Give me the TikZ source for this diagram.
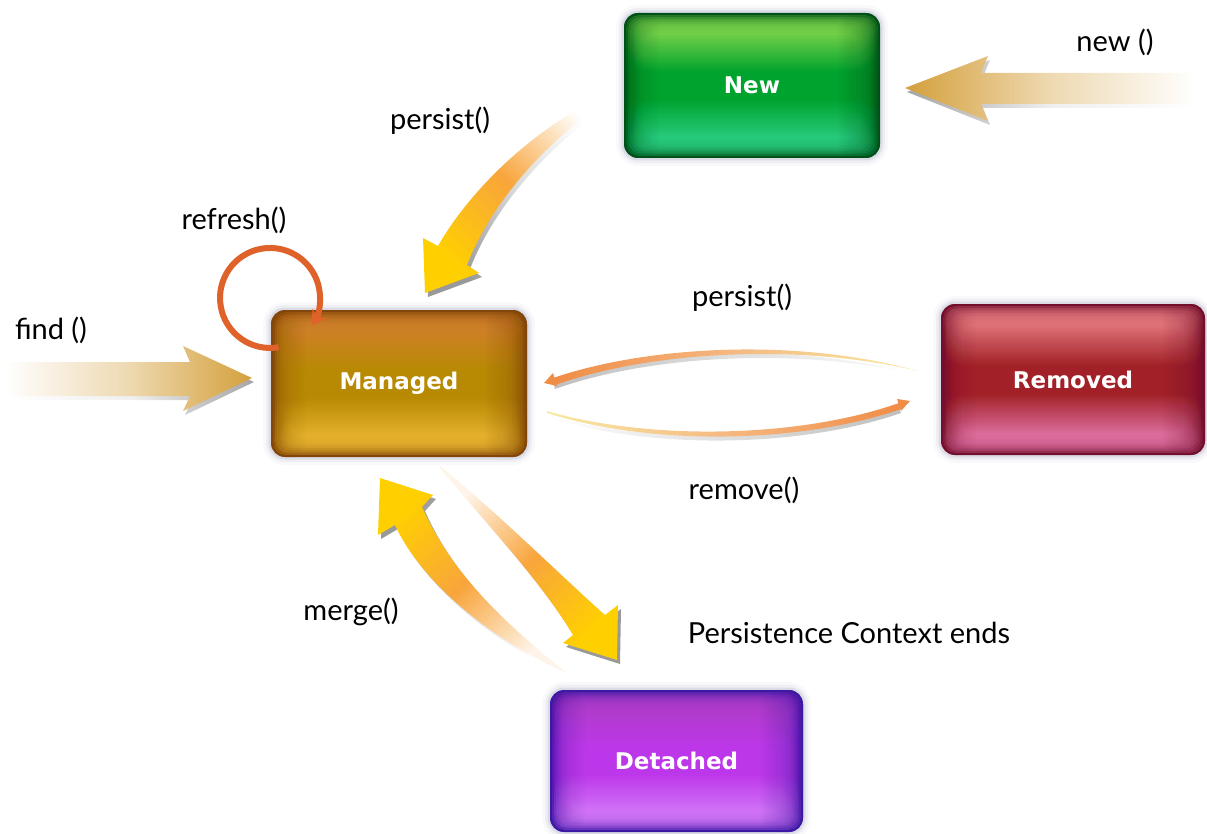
\documentclass[tikz,border=0pt]{standalone}
\usepackage{fontspec}
\setmainfont{Lato}
\newfontfamily\boxfont{DejaVu Sans}
\usetikzlibrary{arrows.meta}
\definecolor{glow}{RGB}{140,140,175}
\definecolor{gold}{RGB}{212,160,60}
\definecolor{ayel}{RGB}{255,208,0}
\definecolor{aora}{RGB}{248,165,60}
\definecolor{apeach}{RGB}{252,228,200}
\definecolor{thinor}{RGB}{240,140,70}
\definecolor{thinpe}{RGB}{245,185,130}
\definecolor{thinye}{RGB}{248,235,165}
\definecolor{refr}{RGB}{222,98,42}
% box colours
\definecolor{newtop}{RGB}{140,222,80}
\definecolor{newmid}{RGB}{0,168,48}
\definecolor{newbot}{RGB}{45,212,135}
\definecolor{newedge}{RGB}{0,80,25}
\definecolor{mantop}{RGB}{214,130,48}
\definecolor{manmid}{RGB}{188,142,4}
\definecolor{manbot}{RGB}{238,186,50}
\definecolor{manedge}{RGB}{130,70,10}
\definecolor{remtop}{RGB}{240,134,140}
\definecolor{remmid}{RGB}{165,36,40}
\definecolor{rembot}{RGB}{230,120,172}
\definecolor{remedge}{RGB}{115,15,45}
\definecolor{dettop}{RGB}{180,62,200}
\definecolor{detmid}{RGB}{196,58,238}
\definecolor{detbot}{RGB}{218,125,252}
\definecolor{detedge}{RGB}{60,25,165}
\pgfdeclareverticalshading{newsh}{100bp}{color(0bp)=(newmid); color(14bp)=(newbot); color(26bp)=(newbot); color(44bp)=(newmid); color(56bp)=(newmid); color(76bp)=(newtop); color(100bp)=(newtop)}
\pgfdeclareverticalshading{mansh}{100bp}{color(0bp)=(manmid); color(14bp)=(manbot); color(26bp)=(manbot); color(44bp)=(manmid); color(56bp)=(manmid); color(76bp)=(mantop); color(100bp)=(mantop)}
\pgfdeclareverticalshading{remsh}{100bp}{color(0bp)=(remmid); color(14bp)=(rembot); color(26bp)=(rembot); color(44bp)=(remmid); color(56bp)=(remmid); color(76bp)=(remtop); color(100bp)=(remtop)}
\pgfdeclareverticalshading{detsh}{100bp}{color(0bp)=(detmid); color(14bp)=(detbot); color(26bp)=(detbot); color(44bp)=(detmid); color(56bp)=(detmid); color(76bp)=(dettop); color(100bp)=(dettop)}
\tikzset{
  statebox/.style={rounded corners=14pt, inner sep=0pt, text=white,
    font=\boxfont\bfseries\fontsize{23}{27}\selectfont,
    preaction={draw=glow, line width=16pt, draw opacity=0.05},
    preaction={draw=glow, line width=10pt, draw opacity=0.10},
    preaction={draw=glow, line width=5pt, draw opacity=0.18}},
  glossy/.style 2 args={fill=#2, path picture={
    \foreach \i in {1,...,9}{
      \shade[shading=#1, opacity=0.3, rounded corners=12pt]
        ([shift={(\i*2.2pt,-\i*2.2pt)}]path picture bounding box.north west) rectangle
        ([shift={(-\i*2.2pt,\i*2.2pt)}]path picture bounding box.south east);}
    \foreach \j in {1,...,14}{
      \fill[#2, opacity=0.03]
        ([xshift=-\j*3pt]path picture bounding box.north east) rectangle
        (path picture bounding box.south east);
      \fill[#2, opacity=0.02]
        ([xshift=\j*2.5pt]path picture bounding box.north west) rectangle
        (path picture bounding box.south west);}}},
  lbl/.style={font=\fontsize{29}{33}\selectfont, inner sep=0pt, text=black},
}
\def\pathNew{(905,88) -- (988,56) -- (981,73) -- (1195,73) -- (1195,104) -- (981,104) -- (988,121) -- cycle}
\def\pathFind{(252,378) -- (183,346) -- (190,362) -- (5,362) -- (5,396) -- (190,396) -- (183,411) -- cycle}
\def\pathA{(612,92) .. controls (530,128) and (467,195) .. (438,246) -- (423,238) -- (425,293) -- (479,273) -- (467,265) .. controls (490,205) and (545,140) .. (614,96) -- cycle}
\def\pathB{(380,478) -- (433,495) -- (422,507) .. controls (450,570) and (500,620) .. (567,673) .. controls (490,640) and (420,580) .. (395,525) -- (378,535) -- cycle}
\def\pathC{(440,466) .. controls (500,515) and (560,575) .. (605,615) -- (618,605) -- (617,660) -- (563,643) -- (573,635) .. controls (540,580) and (490,528) .. (440,468) -- cycle}
\def\pathD{(553,378) .. controls (650,345) and (800,338) .. (918,371) .. controls (800,343) and (650,351) .. (555,385) -- cycle}
\def\pathE{(547,411) .. controls (650,441) and (800,438) .. (899,403) -- (901,409) .. controls (800,444) and (650,446) .. (547,413) -- cycle}
\begin{document}
\begin{tikzpicture}[x=1pt,y=-1pt]
\useasboundingbox (0,0) rectangle (1207,834);

% ---- fat arrows (shadows first) ----
\shade[xshift=2pt, yshift=-4pt, left color=black!35, right color=white, middle color=black!6] \pathNew;
\shade[left color=gold, right color=white, middle color=gold!40] \pathNew;
\shade[xshift=2pt, yshift=-4pt, left color=white, right color=black!35, middle color=black!6] \pathFind;
\shade[left color=white, right color=gold, middle color=gold!40] \pathFind;

\shade[xshift=3pt, yshift=-4pt, top color=black!40, bottom color=white, middle color=black!15, shading angle=135] \pathA;
\shade[top color=ayel, bottom color=white, middle color=aora, shading angle=135] \pathA;

\shade[xshift=3pt, yshift=-4pt, top color=black!40, bottom color=white, middle color=black!15, shading angle=45] \pathB;
\shade[top color=ayel, bottom color=apeach!40, middle color=aora, shading angle=45] \pathB;

\shade[xshift=3pt, yshift=-4pt, top color=black!40, bottom color=white, middle color=black!15, shading angle=225] \pathC;
\shade[top color=ayel, bottom color=apeach!40, middle color=aora, shading angle=225] \pathC;

% ---- thin arrows ----
\shade[yshift=-4pt, left color=black!25, right color=white] \pathD;
\shade[left color=thinor, right color=thinye, middle color=thinpe] \pathD;
\fill[thinor] (544,383) -- (553,373) -- (557,386) -- cycle;
\shade[yshift=-4pt, left color=white, right color=black!25] \pathE;
\shade[left color=thinye, right color=thinor, middle color=thinpe] \pathE;
\fill[thinor] (910,401) -- (897,399) -- (901,411) -- cycle;

% ---- states ----
\node[statebox, glossy={newsh}{newedge}, minimum width=256pt, minimum height=145pt] (new) at (752,85.5) {New};
\node[statebox, glossy={mansh}{manedge}, minimum width=256pt, minimum height=147pt] (managed) at (399,383.5) {Managed};
\node[statebox, glossy={remsh}{remedge}, minimum width=264pt, minimum height=151pt] (removed) at (1073,379.5) {Removed};
\node[statebox, glossy={detsh}{detedge}, minimum width=253pt, minimum height=142pt] (detached) at (676.5,761) {Detached};

% ---- refresh loop ----
\draw[refr, line width=6pt, -{Stealth[length=14pt,width=17pt]}] (278.7,347.2) arc[start angle=80, end angle=393, radius=50];

% ---- labels ----
\node[lbl] (lnew) at (1115,42) {new ()};
\node[lbl] (lpersistA) at (440,121) {persist()};
\node[lbl] (lrefresh) at (234,220) {refresh()};
\node[lbl] (lfind) at (51,330) {find ()};
\node[lbl] (lpersistB) at (742,298) {persist()};
\node[lbl] (lremove) at (744,490) {remove()};
\node[lbl] (lmerge) at (351,612) {merge()};
\node[lbl] (lpce) at (849,633) {Persistence Context ends};
\end{tikzpicture}
\end{document}
